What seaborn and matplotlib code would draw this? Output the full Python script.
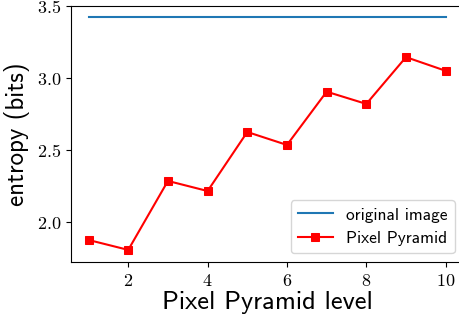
import numpy as np
import pandas as pd
import matplotlib
matplotlib.use("Agg")
import matplotlib.pyplot as plt
import seaborn as sns

# values
levels = [1, 2, 3, 4, 5, 6, 7, 8, 9, 10]
original_entropy = [3.424] * 10
pyramid_entropy = [1.875, 1.806, 2.285, 2.215, 2.625, 2.535, 2.905, 2.82, 3.145, 3.05]

plt.rcParams["mathtext.fontset"] = "cm"

df = pd.DataFrame({"level": levels, "original": original_entropy, "pyramid": pyramid_entropy})

fig = plt.figure(figsize=(4.6, 3.17), dpi=100)
ax = fig.add_axes([0.1537, 0.1735, 0.854, 0.8075])

sns.lineplot(data=df, x="level", y="original", ax=ax, color="#1f77b4",
             linewidth=1.5, label="original image")
sns.lineplot(data=df, x="level", y="pyramid", ax=ax, color="red", marker="s",
             markersize=6, markeredgecolor="red", linewidth=1.5, label="Pixel Pyramid")

ax.set_xlim(0.55, 10.45)
ax.set_ylim(1.722, 3.5)
ax.set_xticks([2, 4, 6, 8, 10])
ax.set_yticks([2.0, 2.5, 3.0, 3.5])
# tick labels in computer modern, like a usetex figure
ax.xaxis.set_major_formatter(matplotlib.ticker.FormatStrFormatter(r"$%d$"))
ax.yaxis.set_major_formatter(matplotlib.ticker.FormatStrFormatter(r"$%.1f$"))
ax.tick_params(labelsize=13)

ax.set_xlabel("Pixel Pyramid level", fontsize=19, family="cmss10", labelpad=1)
ax.set_ylabel("entropy (bits)", fontsize=18, family="cmss10", labelpad=5)

leg = ax.legend(loc="lower right", prop={"family": "cmss10", "size": 12.5})

fig.savefig("out.png", dpi=100)
